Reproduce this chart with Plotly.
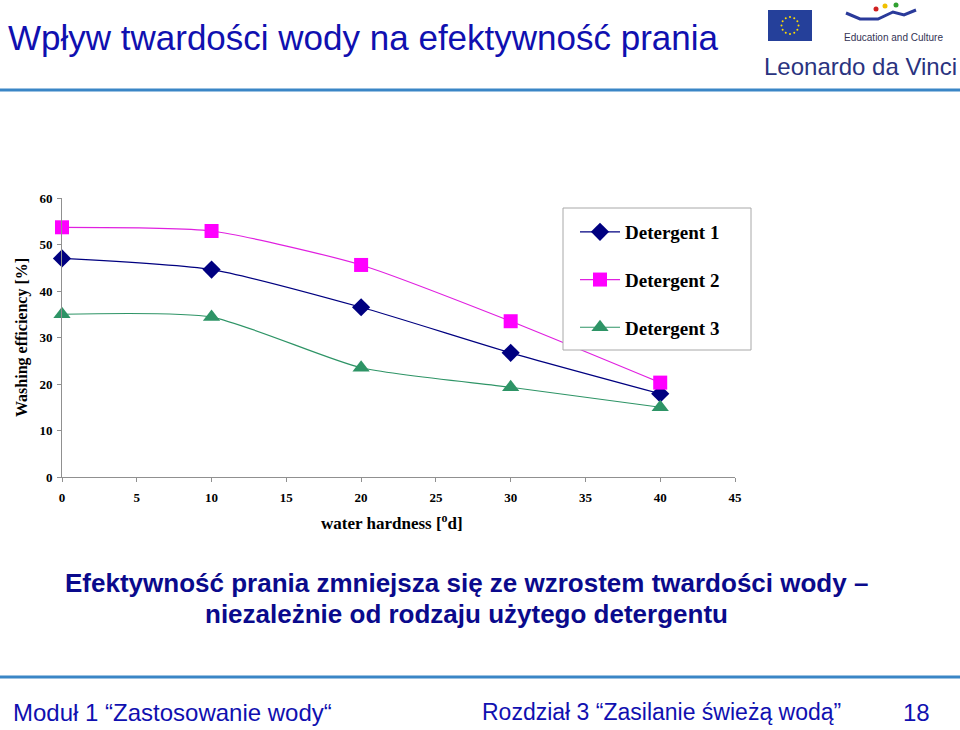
import plotly.graph_objects as go
import math

# ---------------- data ----------------
hardness = [0, 10, 20, 30, 40]
detergent1 = [47.0, 44.6, 36.5, 26.7, 17.9]
detergent2 = [53.7, 52.9, 45.6, 33.5, 20.3]
detergent3 = [35.0, 34.4, 23.5, 19.3, 15.0]
series_names = ["Detergent 1", "Detergent 2", "Detergent 3"]
x_ticks = [0, 5, 10, 15, 20, 25, 30, 35, 40, 45]
y_ticks = [0, 10, 20, 30, 40, 50, 60]

W, H = 960, 730
L, R, T, B = 62, 735, 198, 477   # plot area in pixels

def px(x):
    return (x - L) / (R - L)

def py(y):
    return (B - y) / (B - T)

SERIF = "Liberation Serif, Times New Roman, serif"
SANS = "Liberation Sans, Arial, sans-serif"
BLUE = "#1010B0"

fig = go.Figure()
styles = [
    dict(color="#000080", symbol="diamond", size=14, lcolor="#000080"),
    dict(color="#FF00FF", symbol="square", size=14, lcolor="#E020E0"),
    dict(color="#2E9466", symbol="triangle-up", size=15, lcolor="#2E9466"),
]
for i, (name, ys) in enumerate(zip(series_names, [detergent1, detergent2, detergent3])):
    s = styles[i]
    fig.add_trace(go.Scatter(
        x=hardness, y=ys, name=name, mode="lines+markers",
        line=dict(color=s["lcolor"], width=1.2, shape="spline", smoothing=0.6),
        marker=dict(color=s["color"], symbol=s["symbol"], size=s["size"]),
        legendgroup=f"g{i}", cliponaxis=False,
    ))

fig.update_layout(
    width=W, height=H,
    margin=dict(l=L, r=W - R, t=T, b=H - B, pad=0),
    paper_bgcolor="white", plot_bgcolor="white",
    showlegend=True,
    legend=dict(
        x=px(575), y=py(213), xanchor="left", yanchor="top",
        borderwidth=0, bgcolor="rgba(0,0,0,0)",
        font=dict(family=SERIF, size=19, color="black", weight="bold"),
        tracegroupgap=20, itemwidth=40,
    ),
    xaxis=dict(
        range=[0, 45], tickvals=x_ticks, showgrid=False, zeroline=False,
        showline=True, linecolor="#909090", linewidth=1,
        ticks="outside", ticklen=4, tickcolor="#909090", ticklabelstandoff=4,
        tickfont=dict(family=SERIF, size=13, color="black", weight="bold"),
    ),
    yaxis=dict(
        range=[0, 60], tickvals=y_ticks, showgrid=False, zeroline=False,
        showline=True, linecolor="#909090", linewidth=1,
        ticks="outside", ticklen=4, tickcolor="#909090", ticklabelstandoff=2,
        tickfont=dict(family=SERIF, size=13, color="black", weight="bold"),
    ),
)

annotations = [
    dict(x=px(22), y=py(338), text="<b>Washing efficiency [%]</b>", textangle=-90,
         font=dict(family=SERIF, size=16, color="black")),
    dict(x=px(392), y=py(522), text="<b>water hardness [<sup>o</sup>d]</b>",
         font=dict(family=SERIF, size=17, color="black")),
    dict(x=px(6), y=py(37), xanchor="left", text="Wpływ twardości wody na efektywność prania",
         font=dict(family=SANS, size=35, color=BLUE)),
    dict(x=px(466), y=py(583), text="<b>Efektywność prania zmniejsza się ze wzrostem twardości wody –</b>",
         font=dict(family=SANS, size=26, color="#0A0A8C")),
    dict(x=px(466), y=py(614), text="<b>niezależnie od rodzaju użytego detergentu</b>",
         font=dict(family=SANS, size=26, color="#0A0A8C")),
    dict(x=px(11), y=py(712), xanchor="left", text="Moduł 1 “Zastosowanie wody“",
         font=dict(family=SANS, size=24, color=BLUE)),
    dict(x=px(480), y=py(712), xanchor="left", text="Rozdział 3 “Zasilanie świeżą wodą”",
         font=dict(family=SANS, size=23, color=BLUE)),
    dict(x=px(916), y=py(712), text="18",
         font=dict(family=SANS, size=24, color=BLUE)),
    dict(x=px(893), y=py(38), text="Education and Culture",
         font=dict(family="Liberation Sans Narrow, Arial Narrow, sans-serif", size=10, color="#333355")),
    dict(x=px(860), y=py(66), text="Leonardo da Vinci",
         font=dict(family="Liberation Sans Narrow, Arial Narrow, sans-serif", size=24, color="#2A3380")),
]
for a in annotations:
    a.update(xref="paper", yref="paper", showarrow=False)
    a.setdefault("xanchor", "center")
    a.setdefault("yanchor", "middle")
fig.update_layout(annotations=annotations)

shapes = []
# legend box
shapes.append(dict(type="rect", xref="paper", yref="paper", x0=px(563), x1=px(751),
                   y0=py(350), y1=py(208), fillcolor="white",
                   line=dict(color="#A8A8A8", width=1), layer="above"))
# header / footer lines
for yy in (90, 677):
    shapes.append(dict(type="line", xref="paper", yref="paper", x0=px(0), x1=px(960),
                       y0=py(yy), y1=py(yy), line=dict(color="#3A86C6", width=3)))
# EU flag
shapes.append(dict(type="rect", xref="paper", yref="paper", x0=px(768), x1=px(812),
                   y0=py(41), y1=py(10), fillcolor="#25409A", line=dict(width=0)))
for k in range(12):
    a = 2 * math.pi * k / 12
    cx, cy = 790 + 8.5 * math.cos(a), 25.5 + 8.5 * math.sin(a)
    shapes.append(dict(type="circle", xref="paper", yref="paper",
                       x0=px(cx - 1), x1=px(cx + 1), y0=py(cy + 1), y1=py(cy - 1),
                       fillcolor="#FFDD00", line=dict(width=0)))
# swoosh
pts = [(846, 13), (860, 19), (878, 19), (893, 12), (904, 15), (916, 10)]
path = "M " + " L ".join(f"{px(x)},{py(y)}" for x, y in pts)
shapes.append(dict(type="path", xref="paper", yref="paper", path=path,
                   line=dict(color="#2A3A9A", width=3)))
for (cx, cy, col) in [(876, 9, "#D02020"), (885, 6, "#F0C000"), (896, 5, "#30A030")]:
    shapes.append(dict(type="circle", xref="paper", yref="paper",
                       x0=px(cx - 2.5), x1=px(cx + 2.5), y0=py(cy + 2.5), y1=py(cy - 2.5),
                       fillcolor=col, line=dict(width=0)))
fig.update_layout(shapes=shapes)

fig.write_html("out.html")
